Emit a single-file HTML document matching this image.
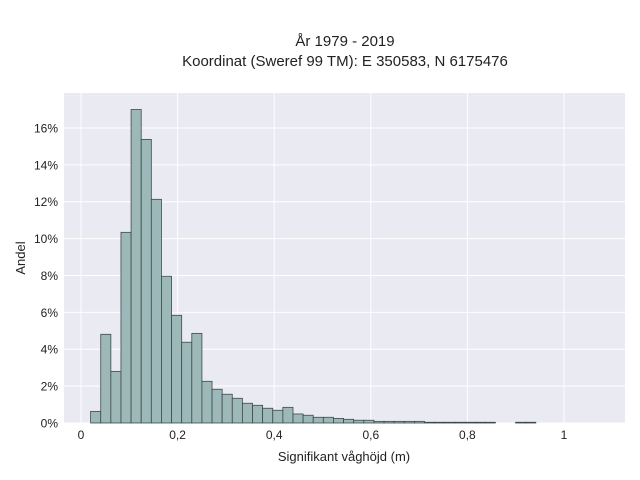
<!DOCTYPE html>
<html><head><meta charset="utf-8"><style>
body{margin:0;background:#fff;}
svg{display:block;font-family:"Liberation Sans",sans-serif;}
</style></head><body>
<svg id="chart" width="640" height="480" viewBox="0 0 640 480" xmlns="http://www.w3.org/2000/svg">
<text x="345" y="46" text-anchor="middle" font-size="15" fill="#222">År 1979 - 2019</text>
<text x="345" y="66" text-anchor="middle" font-size="15" fill="#222">Koordinat (Sweref 99 TM): E 350583, N 6175476</text>
<rect x="64" y="93" width="561" height="330" fill="#eaeaf2"/>
<g id="grid"></g>
<g id="bars"></g>
<g id="ticks"></g>
<text x="344" y="461" text-anchor="middle" font-size="13" fill="#222">Signifikant våghöjd (m)</text>
<text x="25" y="258" text-anchor="middle" font-size="13" fill="#222" transform="rotate(-90 25 258)">Andel</text>
</svg>
<script>
const binStart = 0.0199;
const binWidth = 0.02095;
const shares = [0.63,4.81,2.80,10.34,17.0,15.38,12.13,7.96,5.84,4.38,4.86,2.26,1.83,1.56,1.34,1.07,0.96,0.80,0.69,0.85,0.49,0.42,0.31,0.31,0.25,0.2,0.15,0.15,0.09,0.09,0.09,0.09,0.09,0.04,0.04,0.04,0.04,0.04,0.04,0.04,0,0,0.04,0.04];
const xTicks = [0,0.2,0.4,0.6,0.8,1];
const xTickLabels = ["0","0,2","0,4","0,6","0,8","1"];
const yTicks = [0,2,4,6,8,10,12,14,16];
const yTickLabels = ["0%","2%","4%","6%","8%","10%","12%","14%","16%"];

const NS = "http://www.w3.org/2000/svg";
const X = v => 81 + v * 483;
const Y = v => 423 - v * 18.44;
function mk(tag, attrs, parent){const e=document.createElementNS(NS,tag);for(const k in attrs)e.setAttribute(k,attrs[k]);parent.appendChild(e);return e;}
const grid=document.getElementById('grid'), bars=document.getElementById('bars'), ticks=document.getElementById('ticks');
yTicks.forEach((t,i)=>{
  const l=mk('line',{x1:64,x2:625,y1:Y(t),y2:Y(t),stroke:'#fff','stroke-width':1},grid);
  
  
  const tx=mk('text',{x:58,y:Y(t)+4.5,'text-anchor':'end','font-size':12,fill:'#222'},ticks);
  tx.textContent=yTickLabels[i];
  
  
});
xTicks.forEach((t,i)=>{
  const l=mk('line',{x1:X(t),x2:X(t),y1:93,y2:423,stroke:'#fff','stroke-width':1},grid);
  
  
  const tx=mk('text',{x:X(t),y:439,'text-anchor':'middle','font-size':12,fill:'#222'},ticks);
  tx.textContent=xTickLabels[i];
  
  
});
shares.forEach((v,i)=>{
  if(v<=0) return;
  const x0=X(binStart+i*binWidth), x1=X(binStart+(i+1)*binWidth);
  const r=mk('rect',{x:x0,y:Y(v),width:x1-x0,height:Y(0)-Y(v),fill:'#9db8b8',stroke:'#3d4a4a','stroke-width':0.8},bars);
  
  
});
</script>
</body></html>
